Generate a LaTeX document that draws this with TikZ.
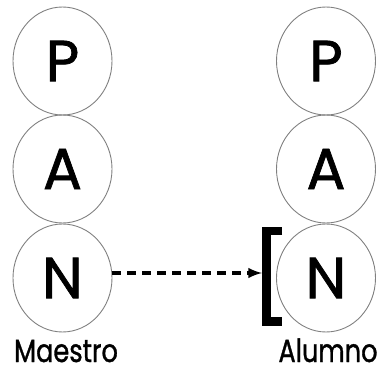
\documentclass[tikz,border=0pt]{standalone}
\usepackage{fontspec}
\setmainfont{Poppins}[FakeBold=1.2]
\usetikzlibrary{shapes.geometric}
\tikzset{>=latex}
\tikzset{
    letra/.style={ellipse,draw=black!50,line width=0.9pt,minimum width=99pt,minimum height=108pt,inner sep=0pt,font=\fontsize{58}{60}\selectfont},
    rotulo/.style={anchor=base,inner sep=0pt,xscale=0.8,font=\fontsize{32}{34}\selectfont},
    flecha/.style={->,line width=3.6pt,dash pattern=on 9pt off 6pt},
}
\newcommand{\letra}[4]{
    \node[letra] (#1) at (#2,#3) {#4};
}

\begin{document}
\begin{tikzpicture}[x=1pt,y=1pt]
            \useasboundingbox (0,0) rectangle (378,370);
            \letra {pM} {62.5} {309} P
            \letra {aM} {62.5} {201} A
            \letra {nM} {62.5} {92} N
            \letra {pA} {326} {309} P
            \letra {aA} {326} {201} A
            \letra {nA} {326} {92} N
            \node[rotulo] (maestro) at (66,8) {Maestro};
            \node[rotulo] (alumno) at (328,8) {Alumno};
            \coordinate (cor) at (262,97);
            \draw[flecha] (nM.east |- cor) -- (cor);
            \draw[line width=8.5pt] (282,139) -- (266.5,139) -- (266.5,48.5) -- (282,48.5);
        \end{tikzpicture}
\end{document}
